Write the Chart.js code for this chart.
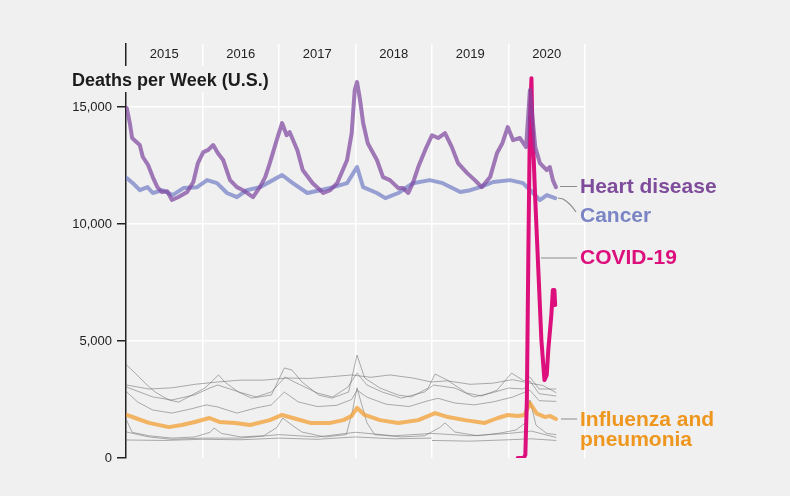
<!DOCTYPE html>
<html>
<head>
<meta charset="utf-8">
<script src="https://cdn.jsdelivr.net/npm/chart.js@4.4.1/dist/chart.umd.min.js"></script>
<style>
  html, body { margin: 0; padding: 0; background: #eff0ef; }
</style>
</head>
<body>
<canvas id="deaths" width="790" height="496"></canvas>
<script>
// x = decimal year, y = deaths per week
var years = [2015, 2016, 2017, 2018, 2019, 2020];
var yTicks = [0, 5000, 10000, 15000];

var heartDisease = [[2015.01,14960],[2015.05,14320],[2015.08,13680],[2015.14,13500],[2015.18,13380],[2015.22,12870],[2015.29,12520],[2015.35,12010],[2015.41,11580],[2015.47,11370],[2015.54,11400],[2015.60,11030],[2015.68,11150],[2015.80,11370],[2015.88,11800],[2015.94,12610],[2016.01,13080],[2016.07,13160],[2016.14,13380],[2016.20,13040],[2016.27,12740],[2016.36,11880],[2016.45,11580],[2016.53,11450],[2016.66,11150],[2016.75,11580],[2016.82,12010],[2016.88,12610],[2016.97,13590],[2017.04,14320],[2017.10,13800],[2017.14,13930],[2017.24,13160],[2017.31,12310],[2017.44,11750],[2017.58,11330],[2017.67,11450],[2017.76,11750],[2017.89,12740],[2017.95,13890],[2017.99,15730],[2018.02,16070],[2018.06,15300],[2018.10,14320],[2018.16,13460],[2018.28,12740],[2018.36,12010],[2018.45,11880],[2018.56,11540],[2018.62,11540],[2018.69,11330],[2018.75,11750],[2018.82,12440],[2018.91,13160],[2019.00,13800],[2019.08,13680],[2019.17,13890],[2019.26,13290],[2019.34,12610],[2019.46,12180],[2019.56,11880],[2019.65,11580],[2019.76,12010],[2019.85,13040],[2019.92,13460],[2019.99,14150],[2020.06,13590],[2020.15,13680],[2020.23,13290],[2020.28,15730],[2020.35,13290],[2020.41,12610],[2020.50,12310],[2020.54,12440],[2020.58,11880],[2020.62,11580]];

var cancer = [[2015.01,11970],[2015.09,11750],[2015.18,11450],[2015.28,11580],[2015.35,11330],[2015.48,11450],[2015.61,11240],[2015.75,11540],[2015.93,11580],[2016.06,11880],[2016.19,11750],[2016.32,11330],[2016.45,11150],[2016.58,11450],[2016.75,11580],[2016.92,11880],[2017.04,12100],[2017.18,11750],[2017.37,11330],[2017.54,11450],[2017.71,11580],[2017.89,11750],[2018.02,12440],[2018.10,11580],[2018.28,11330],[2018.39,11110],[2018.56,11330],[2018.75,11750],[2018.97,11880],[2019.14,11750],[2019.37,11370],[2019.50,11450],[2019.63,11580],[2019.80,11800],[2020.02,11880],[2020.19,11750],[2020.32,11330],[2020.41,11030],[2020.50,11240],[2020.61,11110]];

var covid19 = [[2020.12,0],[2020.20,0],[2020.22,130],[2020.24,2480],[2020.26,8890],[2020.28,14450],[2020.30,16240],[2020.31,14450],[2020.35,11030],[2020.39,8030],[2020.43,5040],[2020.47,3330],[2020.50,3550],[2020.52,4620],[2020.56,6110],[2020.58,7180],[2020.60,7180],[2020.61,6540]];

var fluPneumonia = [[2015.01,1840],[2015.12,1710],[2015.30,1500],[2015.56,1320],[2015.73,1410],[2015.90,1540],[2016.09,1710],[2016.22,1540],[2016.43,1500],[2016.62,1410],[2016.88,1620],[2017.04,1840],[2017.18,1710],[2017.41,1500],[2017.67,1500],[2017.84,1620],[2017.95,1800],[2018.02,2140],[2018.12,1840],[2018.32,1620],[2018.56,1500],[2018.82,1620],[2019.04,1920],[2019.21,1750],[2019.43,1620],[2019.69,1500],[2019.86,1710],[2019.99,1840],[2020.12,1800],[2020.21,1840],[2020.28,2350],[2020.37,1900],[2020.48,1750],[2020.54,1800],[2020.62,1670]];

var otherCause1 = [[2015.01,3970],[2015.12,3630],[2015.25,3200],[2015.38,2820],[2015.56,2480],[2015.69,2390],[2015.86,2690],[2016.03,2990],[2016.21,3550],[2016.29,3250],[2016.47,2820],[2016.64,2560],[2016.90,2690],[2017.07,3850],[2017.17,3760],[2017.30,3250],[2017.52,2690],[2017.69,2560],[2017.91,2820],[2018.02,4400],[2018.12,3420],[2018.32,2990],[2018.56,2690],[2018.73,2610],[2018.95,2990],[2019.04,3590],[2019.20,3330],[2019.45,2780],[2019.65,2650],[2019.85,2900],[2020.04,3630],[2020.20,3300],[2020.28,3460],[2020.40,2950],[2020.62,2950]];
var otherCause2 = [[2015.01,3120],[2015.30,2950],[2015.60,3000],[2015.90,3150],[2016.20,3250],[2016.50,3330],[2016.80,3330],[2017.10,3420],[2017.40,3400],[2017.70,3480],[2017.95,3550],[2018.20,3450],[2018.45,3550],[2018.75,3420],[2018.99,3250],[2019.20,3300],[2019.50,3150],[2019.80,3200],[2020.05,3350],[2020.28,3200],[2020.45,3100],[2020.62,2800]];
var otherCause3 = [[2015.01,3030],[2015.35,2610],[2015.60,2480],[2015.90,2700],[2016.10,3000],[2016.20,3120],[2016.50,2800],[2016.70,2610],[2016.90,2820],[2017.08,3460],[2017.20,3250],[2017.50,2780],[2017.70,2610],[2017.90,3030],[2018.02,3630],[2018.15,3120],[2018.35,2820],[2018.60,2560],[2018.90,2820],[2019.02,3120],[2019.30,2990],[2019.55,2610],[2019.80,2800],[2020.00,2990],[2020.20,2950],[2020.28,3300],[2020.40,2750],[2020.62,2650]];
var otherCause4 = [[2015.01,2820],[2015.15,2400],[2015.35,2050],[2015.60,1920],[2015.85,2100],[2016.05,2270],[2016.20,2180],[2016.45,1920],[2016.70,2140],[2016.90,2270],[2017.07,2820],[2017.25,2400],[2017.50,2200],[2017.75,2250],[2017.95,2500],[2018.02,2900],[2018.15,2600],[2018.40,2300],[2018.70,2200],[2018.95,2450],[2019.08,2550],[2019.30,2350],[2019.55,2270],[2019.80,2400],[2020.05,2600],[2020.28,2900],[2020.40,2450],[2020.62,2420]];
var otherCause5 = [[2015.01,1600],[2015.08,1100],[2015.30,950],[2015.60,850],[2015.90,900],[2016.10,1100],[2016.15,1280],[2016.25,1050],[2016.50,900],[2016.80,950],[2016.97,1300],[2017.05,1710],[2017.15,1450],[2017.30,1110],[2017.60,900],[2017.88,1000],[2017.96,2000],[2018.02,3000],[2018.08,2300],[2018.15,1500],[2018.25,1000],[2018.60,900],[2018.90,950],[2019.10,1300],[2019.17,1500],[2019.30,1110],[2019.60,950],[2019.90,1070],[2020.10,1200],[2020.22,1500],[2020.28,2480],[2020.36,1400],[2020.50,1050],[2020.62,1000]];
var otherCause6 = [[2015.01,1110],[2015.30,900],[2015.60,800],[2016.00,850],[2016.50,850],[2017.00,1000],[2017.50,900],[2018.00,1100],[2018.50,950],[2019.00,1050],[2019.50,950],[2020.00,1050],[2020.30,1150],[2020.62,880]];
var otherCause7 = [[2015.01,770],[2015.50,750],[2016.00,800],[2016.50,780],[2017.00,850],[2017.50,800],[2018.00,900],[2018.50,820],[2018.99,850]];
var otherCause8 = [[2019.00,750],[2019.50,720],[2020.00,780],[2020.30,820],[2020.62,750]];

var bg = '#eff0ef';
var font = '"Liberation Sans", Arial, Helvetica, sans-serif';

function pts(arr) {
  return arr.map(function (p) { return { x: p[0], y: p[1] }; });
}

function grayLine(arr) {
  return { data: pts(arr), borderColor: 'rgba(110,110,110,0.55)', borderWidth: 1 };
}

var overlay = {
  id: 'overlay',
  beforeDraw: function (chart) {
    var ctx = chart.ctx;
    ctx.save();
    ctx.fillStyle = bg;
    ctx.fillRect(0, 0, chart.width, chart.height);
    ctx.restore();
  },
  afterDraw: function (chart) {
    var ctx = chart.ctx;
    var xs = chart.scales.x;
    ctx.save();

    // year labels between the gridlines
    ctx.font = '13px ' + font;
    ctx.fillStyle = '#222';
    ctx.textAlign = 'center';
    ctx.textBaseline = 'middle';
    years.forEach(function (yr) {
      ctx.fillText(String(yr), xs.getPixelForValue(yr + 0.5), 54);
    });

    // axis title with a box behind it
    ctx.font = 'bold 18px ' + font;
    var t = 'Deaths per Week (U.S.)';
    var w = ctx.measureText(t).width;
    ctx.fillStyle = bg;
    ctx.fillRect(68, 66, w + 8, 26);
    ctx.fillStyle = '#1c1c1c';
    ctx.textAlign = 'left';
    ctx.textBaseline = 'alphabetic';
    ctx.fillText(t, 72, 86);

    // leader lines
    ctx.strokeStyle = '#8c8c8c';
    ctx.lineWidth = 1.2;
    ctx.beginPath();
    ctx.moveTo(560, 186.5); ctx.lineTo(577, 186.5);
    ctx.moveTo(558, 198); ctx.lineTo(563, 199);
    ctx.quadraticCurveTo(570, 203, 576, 212);
    ctx.moveTo(541, 258); ctx.lineTo(577, 258);
    ctx.moveTo(561, 419); ctx.lineTo(577, 419);
    ctx.stroke();

    // series labels
    ctx.font = 'bold 21px ' + font;
    ctx.fillStyle = '#7f4c9c';
    ctx.fillText('Heart disease', 580, 193);
    ctx.fillStyle = '#7b85c5';
    ctx.fillText('Cancer', 580, 222);
    ctx.fillStyle = '#dc0f7d';
    ctx.fillText('COVID-19', 580, 264);
    ctx.fillStyle = '#ef961e';
    ctx.fillText('Influenza and', 580, 426);
    ctx.fillText('pneumonia', 580, 446);

    ctx.restore();
  }
};

new Chart(document.getElementById('deaths'), {
  type: 'line',
  data: {
    datasets: [
      { label: 'Heart disease', data: pts(heartDisease), borderColor: 'rgba(128,70,160,0.72)', borderWidth: 4 },
      { label: 'COVID-19', data: pts(covid19), borderColor: '#dc0f7d', borderWidth: 4 },
      { label: 'Cancer', data: pts(cancer), borderColor: 'rgba(122,132,200,0.75)', borderWidth: 4 },
      { label: 'Influenza and pneumonia', data: pts(fluPneumonia), borderColor: 'rgba(242,155,45,0.72)', borderWidth: 4 },
      grayLine(otherCause1),
      grayLine(otherCause2),
      grayLine(otherCause3),
      grayLine(otherCause4),
      grayLine(otherCause5),
      grayLine(otherCause6),
      grayLine(otherCause7),
      grayLine(otherCause8)
    ]
  },
  options: {
    responsive: false,
    animation: false,
    events: [],
    layout: { padding: { top: 44, right: 205, bottom: 38, left: 0 } },
    elements: {
      point: { radius: 0 },
      line: { tension: 0, borderJoinStyle: 'round', borderCapStyle: 'round' }
    },
    plugins: { legend: { display: false }, tooltip: { enabled: false } },
    scales: {
      x: {
        type: 'linear',
        min: 2015,
        max: 2021,
        ticks: { display: false, stepSize: 1 },
        border: { display: false },
        grid: {
          lineWidth: 1.5,
          tickLength: 0,
          color: function (c) { return c.tick && c.tick.value === 2015 ? 'rgba(0,0,0,0)' : '#ffffff'; }
        },
        afterFit: function (s) { s.height = 0; }
      },
      y: {
        min: 0,
        max: 17700,
        afterBuildTicks: function (s) { s.ticks = yTicks.map(function (v) { return { value: v }; }); },
        ticks: {
          color: '#222',
          font: { size: 13, family: font },
          padding: 5,
          callback: function (v) { return v.toLocaleString('en-US'); }
        },
        border: { display: true, color: '#222', width: 1.5 },
        grid: {
          lineWidth: 1.5,
          tickLength: 9,
          tickColor: '#222',
          color: function (c) { return c.tick && c.tick.value === 0 ? 'rgba(0,0,0,0)' : '#ffffff'; }
        },
        afterFit: function (s) { s.width = 126; }
      }
    }
  },
  plugins: [overlay]
});
</script>
</body>
</html>
